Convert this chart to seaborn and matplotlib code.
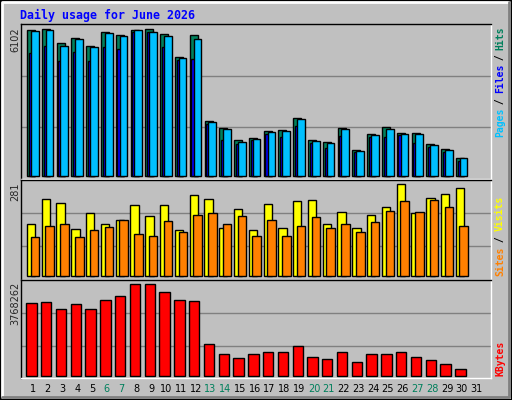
import numpy as np
import seaborn as sns
import matplotlib.pyplot as plt
from matplotlib.lines import Line2D

days = np.arange(1, 32)
day_labels = [str(d) for d in days]
weekend_days = [6, 7, 13, 14, 20, 21, 27, 28]

# day 31 has no data yet
hits = [6061, 6102, 5521, 5728, 5396, 5977, 5867, 6061, 6102, 5894, 4940, 5853, 2283, 1993, 1494,
        1577, 1868, 1909, 2408, 1494, 1411, 1993, 1079, 1743, 2034, 1785, 1785, 1328, 1121, 747, np.nan]
files = [6019, 6061, 5396, 5687, 5355, 5936, 5812, 6061, 5978, 5812, 4898, 5687, 2242, 1951, 1411,
         1536, 1826, 1868, 2366, 1453, 1370, 1951, 1038, 1702, 1951, 1743, 1743, 1287, 1079, 747, np.nan]
pages = [5120, 5396, 4788, 5161, 4788, 5355, 5272, 5978, 5978, 5355, 4815, 4857, 2159, 1494, 1328,
         1494, 1743, 1633, 2076, 1370, 1162, 1660, 996, 1633, 1619, 1702, 1370, 1204, 996, 623, np.nan]
visits = [161, 235, 223, 144, 192, 161, 171, 217, 183, 217, 140, 247, 235, 147, 205, 140, 220, 147,
          229, 232, 161, 195, 147, 186, 211, 281, 192, 238, 250, 269, np.nan]
sites = [119, 153, 159, 119, 140, 150, 171, 128, 122, 168, 134, 186, 192, 159, 183, 122, 171, 122,
         153, 180, 147, 159, 134, 165, 199, 229, 195, 232, 211, 153, np.nan]
kbytes = [2984000, 3025700, 2736900, 2943100, 2736900, 3108200, 3273200, 3768262, 3768262, 3438300,
          3108200, 3066900, 1292800, 880200, 715200, 880200, 962700, 962700, 1210300, 756400, 673900,
          962700, 550100, 880200, 880200, 962700, 756400, 632600, 467600, 261300, np.nan]

BG = '#C0C0C0'
sns.set_style('white')
fig = plt.figure(figsize=(5.12, 4.0), dpi=100, facecolor=BG)
W, H = 512.0, 400.0


def px_axes(x0, y0, x1, y1):
    ax = fig.add_axes([x0 / W, 1 - y1 / H, (x1 - x0) / W, (y1 - y0) / H])
    ax.set_facecolor(BG)
    for s in ['top', 'left']:
        ax.spines[s].set_color('black')
    for s in ['bottom', 'right']:
        ax.spines[s].set_color('white')
    for s in ax.spines.values():
        s.set_linewidth(1)
    return ax


def bars(ax, vals, offset, width, color, z):
    sns.barplot(x=days + offset, y=vals, native_scale=True, width=width, color=color,
                edgecolor='black', linewidth=1, errorbar=None, ax=ax, zorder=z, saturation=1)


def finish(ax, ylim, grid):
    for g in grid:
        ax.axhline(g, color='#808080', lw=1, zorder=1)
    ax.set_xlim(0.17, 31.95)
    ax.set_ylim(*ylim)
    ax.set_xticks([])
    ax.set_yticks([])
    ax.set_xlabel('')
    ax.set_ylabel('')


ax1 = px_axes(20.7, 24.3, 490.7, 179)
bars(ax1, hits, -0.13, 0.54, '#00805C', 2)
bars(ax1, pages, -0.06, 0.45, '#0000FF', 3)
bars(ax1, files, 0.12, 0.52, '#00C0FF', 4)
finish(ax1, (-104, 6310), [4150, 2034])

ax2 = px_axes(20.7, 180, 490.7, 279.5)
bars(ax2, visits, -0.13, 0.56, '#FFFF00', 2)
bars(ax2, sites, 0.13, 0.58, '#FF8000', 3)
finish(ax2, (-9.8, 294), [192, 91.6])

ax3 = px_axes(20.7, 280, 490.7, 378)
bars(ax3, kbytes, -0.1, 0.7, '#FF0000', 2)
finish(ax3, (-95000, 3949000), [2575000, 1213000])

# title
fig.text(20 / W, 1 - 15 / H, 'Daily usage for June 2026', color='#0000FF', fontsize=8.4,
         family='DejaVu Sans Mono', fontweight='bold', va='center', ha='left')

# left max labels
for y, t in [(27, '6102'), (182, '281'), (282, '3768262')]:
    fig.text(15 / W, 1 - y / H, t, rotation=90, fontsize=7, ha='center', va='top',
             family='DejaVu Sans')


# right legends, drawn bottom to top
def legend(y_bottom, parts, step):
    i = 0
    for txt, col in parts:
        fig.text(500 / W, 1 - (y_bottom - i * step) / H, txt, rotation=90, color=col,
                 fontsize=7, family='DejaVu Sans Mono', fontweight='bold', ha='center', va='bottom')
        i += len(txt)


legend(137, [('Pages', '#00C0FF'), (' / ', 'black'), ('Files', '#0000FF'), (' / ', 'black'),
             ('Hits', '#00805C')], 5.45)
legend(276, [('Sites', '#FF8000'), (' / ', 'black'), ('Visits', '#FFFF00')], 5.57)
legend(376, [('KBytes', '#FF0000')], 5.8)

# day labels
for d in days:
    x = 20.7 + (d - 0.17) / (31.95 - 0.17) * 470
    fig.text(x / W, 1 - 389 / H, day_labels[d - 1], fontsize=7, ha='center', va='center',
             color='#00805C' if d in weekend_days else 'black')

# bevelled border
def line(xs, ys, c, lw=1):
    fig.add_artist(Line2D([x / W for x in xs], [1 - y / H for y in ys], color=c, lw=lw,
                          transform=fig.transFigure))


line([0.5, 511.5, 511.5, 0.5, 0.5], [0.5, 0.5, 399.5, 399.5, 0.5], 'black', 1.5)
line([2, 2, 509], [397, 2, 2], 'white', 2)
line([2, 509, 509], [397, 397, 2], '#808080', 2)

fig.savefig('out.png', dpi=100, facecolor=BG)
